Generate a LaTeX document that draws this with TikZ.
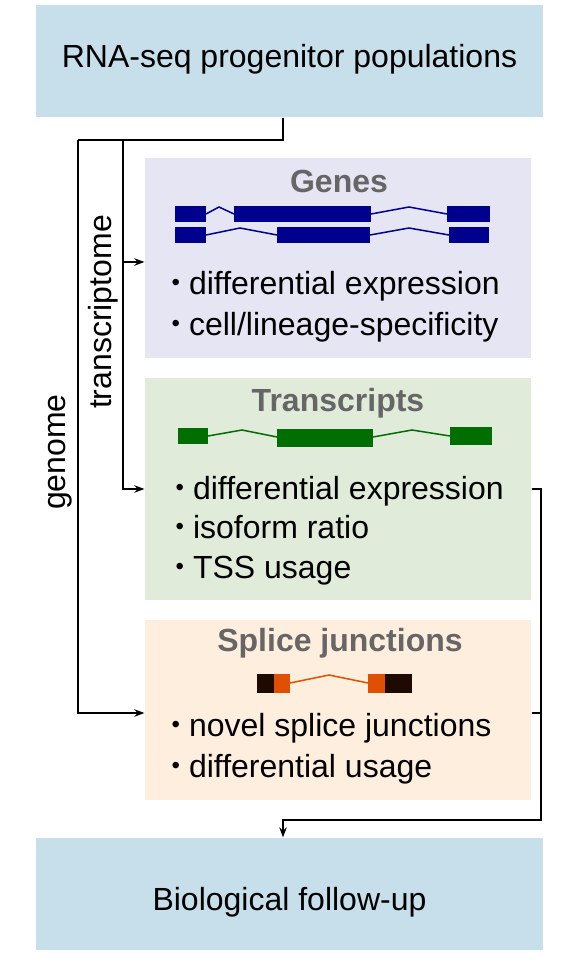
\documentclass[tikz,border=0pt]{standalone}
\usepackage{fontspec}
\setmainfont{Liberation Sans}
\usetikzlibrary{arrows.meta}
\definecolor{topblue}{HTML}{C6DFEA}
\definecolor{genebg}{HTML}{E5E5F4}
\definecolor{transbg}{HTML}{E1EBDA}
\definecolor{splicebg}{HTML}{FEEEDE}
\definecolor{geneblue}{HTML}{00008F}
\definecolor{transgreen}{HTML}{006E00}
\definecolor{splorange}{HTML}{E05000}
\definecolor{spldark}{HTML}{1E0A00}
\definecolor{titlegray}{HTML}{666666}
\newcommand{\bul}{\raisebox{4pt}{\fontsize{24}{24}\selectfont\textbullet}\hspace{9pt}}
\tikzset{
  endbox/.style={fill=topblue, minimum width=507pt, minimum height=112pt, font=\fontsize{32}{38}\selectfont},
  levelbox/.style={minimum width=386pt},
  boxtitle/.style={text=titlegray, font=\fontsize{32}{38}\selectfont\bfseries},
  bulletline/.style={anchor=base west, font=\fontsize{32}{38}\selectfont, inner sep=0pt},
  railtext/.style={rotate=90, font=\fontsize{32}{38}\selectfont}
}
\begin{document}
\begin{tikzpicture}[x=1pt, y=-1pt, >={Stealth[length=10pt,width=7.5pt]}, line width=1.3pt]
\useasboundingbox (0,0) rectangle (561,958);
% boxes
\node[endbox, text height=23pt, text depth=11pt] (top) at (289.5,61) {RNA-seq progenitor populations};
\node[levelbox, fill=genebg, minimum height=200pt] (genes) at (338,258) {};
\node[levelbox, fill=transbg, minimum height=222pt] (trans) at (338,489) {};
\node[levelbox, fill=splicebg, minimum height=180pt] (splice) at (338,710) {};
\node[endbox, text height=40pt, text depth=8pt] (bottom) at (289.5,894) {Biological follow-up};
% titles
\node[boxtitle] (genestitle) at (339,181) {Genes};
\node[boxtitle] (transtitle) at (338,403) {Transcripts};
\node[boxtitle] (splicetitle) at (340,643) {Splice junctions};
% gene models
\begin{scope}[geneblue, line width=1.5pt]
  \fill (175,206) rectangle (206,222);
  \fill (234,206) rectangle (371,222);
  \fill (447,206) rectangle (490,222);
  \draw (206,214) -- (219,207) -- (234,214);
  \draw (371,214) -- (409,207) -- (447,214);
  \fill (175,227) rectangle (206,243);
  \fill (277,227) rectangle (370,243);
  \fill (449,227) rectangle (489,243);
  \draw (206,235) -- (240,228) -- (277,235);
  \draw (370,235) -- (409,228) -- (449,235);
\end{scope}
\begin{scope}[transgreen, line width=1.5pt]
  \fill (178,428) rectangle (208,444);
  \fill (277,429) rectangle (373,447);
  \fill (450,427) rectangle (492,445);
  \draw (208,436) -- (242,430) -- (277,437);
  \draw (373,437) -- (412,430) -- (450,436);
\end{scope}
\begin{scope}[line width=1.5pt]
  \fill[spldark] (257,674) rectangle (274,693);
  \fill[splorange] (274,674) rectangle (290,693);
  \fill[splorange] (368,674) rectangle (385,693);
  \fill[spldark] (385,674) rectangle (412,693);
  \draw[splorange] (290,683) -- (329,675) -- (368,683);
\end{scope}
% bullet lists
\node[bulletline] (g1) at (171,294) {\bul differential expression};
\node[bulletline] (g2) at (171,335) {\bul cell/lineage-specificity};
\node[bulletline] (t1) at (175,499) {\bul differential expression};
\node[bulletline] (t2) at (175,538) {\bul isoform ratio};
\node[bulletline] (t3) at (175,578) {\bul TSS usage};
\node[bulletline] (s1) at (171,736) {\bul novel splice junctions};
\node[bulletline] (s2) at (171,777) {\bul differential usage};
% rails
\coordinate (fork) at (283,140);
\coordinate (grail) at (78,140);
\coordinate (trail) at (123,140);
\coordinate (join) at (541,820);
\coordinate (genesin) at ([yshift=-4pt]genes.west);
\coordinate (splicein) at ([yshift=-3pt]splice.west);
\coordinate (spliceout) at ([yshift=-3pt]splice.east);
\draw (top.south -| fork) -- (fork) -- (grail);
\draw[->] (grail) |- (splicein);
\draw[->] (trail) |- (trans.west);
\draw[->] (trail |- genesin) -- (genesin);
\draw[->] (trans.east) -| (join) -| (fork |- bottom.north);
\draw (spliceout) -- (spliceout -| join);
\node[railtext] (trlabel) at (103,312) {transcriptome};
\node[railtext] (glabel) at (60,452) {genome};
\end{tikzpicture}
\end{document}
